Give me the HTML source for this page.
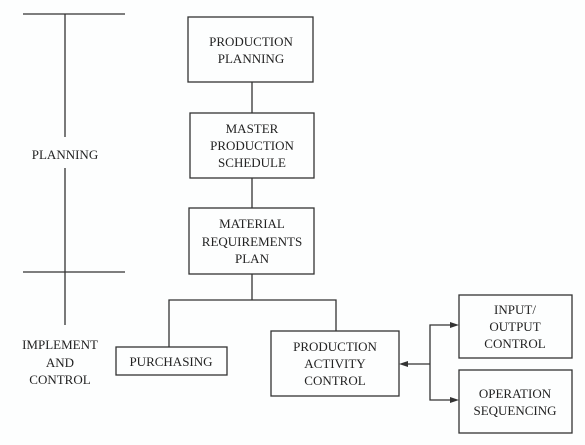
<!DOCTYPE html>
<html><head><style>
body{margin:0;background:#fff;}
svg{display:block}
text{font-family:"Liberation Serif",serif;font-size:13px;fill:#222;text-anchor:middle}
</style></head><body>
<svg width="585" height="445" viewBox="0 0 585 445">
<rect width="585" height="445" fill="#fdfefe"/>
<g stroke="#333" stroke-width="1.3" fill="none">
<line x1="23" y1="14" x2="125" y2="14"/>
<line x1="23" y1="272" x2="125" y2="272"/>
<line x1="65" y1="14" x2="65" y2="137"/>
<line x1="65" y1="168" x2="65" y2="325"/>
<rect x="188" y="17" width="125" height="65"/>
<rect x="190" y="113" width="124" height="65"/>
<rect x="189" y="208" width="125" height="66"/>
<line x1="252" y1="82" x2="252" y2="113"/>
<line x1="252" y1="178" x2="252" y2="208"/>
<line x1="252" y1="274" x2="252" y2="300"/>
<polyline points="169,347 169,300 336,300 336,331"/>
<rect x="116" y="347" width="111" height="28"/>
<rect x="271" y="331" width="128" height="65"/>
<rect x="459" y="295" width="113" height="63"/>
<rect x="459" y="370" width="113" height="63"/>
<line x1="405" y1="364" x2="430" y2="364"/>
<polyline points="453,325 430,325 430,400 453,400"/>
</g>
<g fill="#333">
<polygon points="399,364 408,361 408,367"/>
<polygon points="459,325 450,322 450,328"/>
<polygon points="459,400 450,397 450,403"/>
</g>
<text x="65" y="159">PLANNING</text>
<text x="60" y="349">IMPLEMENT</text>
<text x="60" y="367">AND</text>
<text x="60" y="384">CONTROL</text>
<text x="251" y="46">PRODUCTION</text>
<text x="251" y="63">PLANNING</text>
<text x="252" y="133">MASTER</text>
<text x="252" y="150">PRODUCTION</text>
<text x="252" y="167">SCHEDULE</text>
<text x="252" y="228">MATERIAL</text>
<text x="252" y="246">REQUIREMENTS</text>
<text x="252" y="263">PLAN</text>
<text x="171" y="366">PURCHASING</text>
<text x="335" y="351">PRODUCTION</text>
<text x="335" y="368">ACTIVITY</text>
<text x="335" y="385">CONTROL</text>
<text x="515" y="314">INPUT/</text>
<text x="515" y="331">OUTPUT</text>
<text x="515" y="348">CONTROL</text>
<text x="515" y="398">OPERATION</text>
<text x="515" y="415">SEQUENCING</text>
</svg>
</body></html>
